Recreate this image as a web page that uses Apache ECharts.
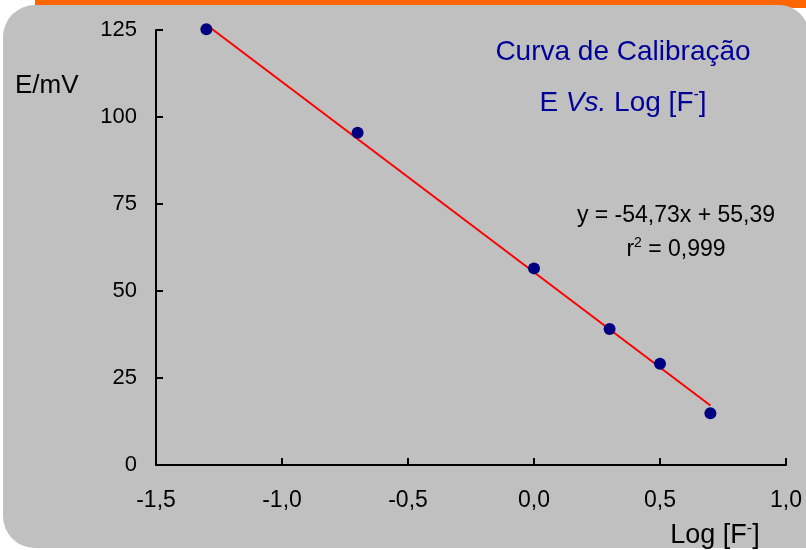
<!DOCTYPE html>
<html>
<head>
<meta charset="utf-8">
<script src="https://cdn.jsdelivr.net/npm/echarts@6/dist/echarts.min.js"></script>
<style>
html,body{margin:0;padding:0;background:#fff;}
#chart{width:806px;height:550px;}
</style>
</head>
<body>
<div id="chart"></div>
<script>
// Data
var logF = [-1.3, -0.7, 0.0, 0.3, 0.5, 0.7];
var emV = [125.2, 95.5, 56.5, 39.1, 29.1, 14.9];
// Trend line endpoints (as drawn in the reference)
var trendX = [-1.3, 0.7];
var trendY = [126.5, 17.1];
var xTicks = [-1.5, -1.0, -0.5, 0.0, 0.5, 1.0];
var yTicks = [0, 25, 50, 75, 100, 125];

var titleText = 'Curva de Calibração';
var equationText = 'y = -54,73x + 55,39';
var r2Text = '0,999';

var FONT = "'Liberation Sans', Arial, sans-serif";
var chart = echarts.init(document.getElementById('chart'));

var pts = logF.map(function (x, i) { return [x, emV[i]]; });
var trend = trendX.map(function (x, i) { return [x, trendY[i]]; });

var option = {
  backgroundColor: '#ffffff',
  animation: false,
  grid: { left: 156, right: 20, top: 30, bottom: 85, containLabel: false },
  xAxis: {
    type: 'value',
    min: xTicks[0], max: xTicks[xTicks.length - 1], interval: 0.5,
    axisLine: { show: true, onZero: false, lineStyle: { color: '#000', width: 2 } },
    axisTick: { show: true, inside: true, length: 7, lineStyle: { color: '#000', width: 2 } },
    splitLine: { show: false },
    axisLabel: {
      margin: 24, fontSize: 23, fontFamily: FONT, color: '#000',
      formatter: function (v) { return v.toFixed(1).replace('.', ','); }
    }
  },
  yAxis: {
    type: 'value',
    min: yTicks[0], max: yTicks[yTicks.length - 1], interval: 25,
    axisLine: { show: true, onZero: false, lineStyle: { color: '#000', width: 2 } },
    axisTick: { show: true, inside: true, length: 7, lineStyle: { color: '#000', width: 2 } },
    splitLine: { show: false },
    axisLabel: { margin: 19, fontSize: 22, fontFamily: FONT, color: '#000' }
  },
  graphic: [
    { type: 'rect', z: -20, shape: { x: 35, y: 0, width: 800, height: 8 }, style: { fill: '#ff6600' } },
    { type: 'rect', z: -10, shape: { x: 3, y: 5, width: 806, height: 543, r: [32, 30, 0, 32] }, style: { fill: '#c0c0c0' } },
    { type: 'text', z: 5, style: {
        x: 623, y: 52, text: titleText, textAlign: 'center', textVerticalAlign: 'middle',
        fontSize: 28, fontFamily: FONT, fill: '#000099' } },
    { type: 'text', z: 5, style: {
        x: 623, y: 103, textAlign: 'center', textVerticalAlign: 'middle',
        text: '{a|E }{i|Vs.}{a| Log [F}{s|-}{a|]}',
        rich: {
          a: { fontSize: 28, fontFamily: FONT, fill: '#000099', color: '#000099', lineHeight: 32 },
          i: { fontSize: 28, fontFamily: FONT, fontStyle: 'italic', fill: '#000099', color: '#000099', lineHeight: 32 },
          s: { fontSize: 16, fontFamily: FONT, fill: '#000099', color: '#000099', verticalAlign: 'top', lineHeight: 14 }
        } } },
    { type: 'text', z: 5, style: {
        x: 676, y: 216, text: equationText, textAlign: 'center', textVerticalAlign: 'middle',
        fontSize: 23, fontFamily: FONT, fill: '#000' } },
    { type: 'text', z: 5, style: {
        x: 676, y: 250, textAlign: 'center', textVerticalAlign: 'middle',
        text: '{a|r}{s|2}{a| = ' + r2Text + '}',
        rich: {
          a: { fontSize: 23, fontFamily: FONT, fill: '#000', color: '#000', lineHeight: 28 },
          s: { fontSize: 14, fontFamily: FONT, fill: '#000', color: '#000', verticalAlign: 'top', lineHeight: 14 }
        } } },
    { type: 'text', z: 5, style: {
        x: 15, y: 86, text: 'E/mV', textAlign: 'left', textVerticalAlign: 'middle',
        fontSize: 26, fontFamily: FONT, fill: '#000' } },
    { type: 'text', z: 5, style: {
        x: 715, y: 536, textAlign: 'center', textVerticalAlign: 'middle',
        text: '{a|Log [F}{s|-}{a|]}',
        rich: {
          a: { fontSize: 27, fontFamily: FONT, fill: '#000', color: '#000', lineHeight: 30 },
          s: { fontSize: 16, fontFamily: FONT, fill: '#000', color: '#000', verticalAlign: 'top', lineHeight: 14 }
        } } }
  ],
  series: [
    {
      type: 'line', data: trend, symbol: 'none', clip: false, z: 2,
      lineStyle: { color: '#ff0000', width: 2 }, silent: true
    },
    {
      type: 'scatter', data: pts, symbol: 'circle', symbolSize: 12, z: 3, clip: false,
      itemStyle: { color: '#000080', opacity: 1 }
    }
  ]
};
chart.setOption(option);
</script>
</body>
</html>
